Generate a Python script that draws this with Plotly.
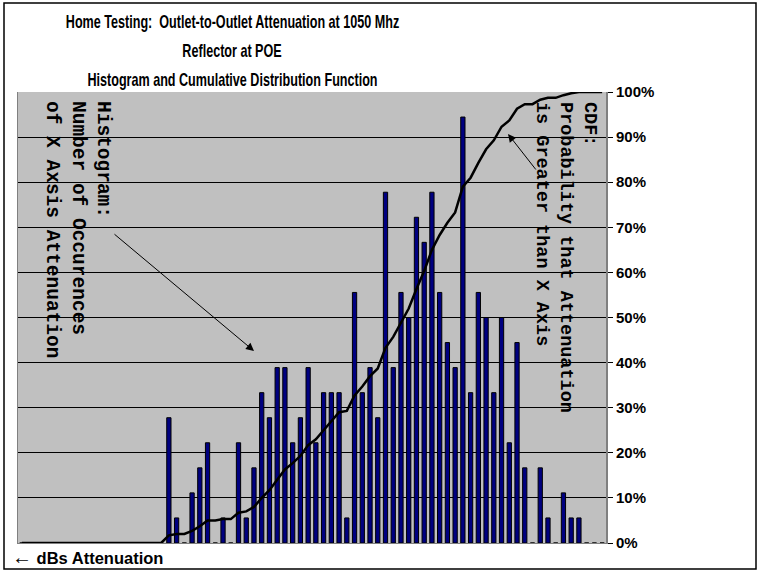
import plotly.graph_objects as go

# ---- data ----
bins = list(range(76))  # attenuation bins (categories), left to right
counts = [0] * 19 + [5, 1, 0, 2, 3, 4, 0, 1, 0, 4,
                     1, 3, 6, 5, 7, 7, 4, 5, 7, 4,
                     6, 6, 6, 1, 10, 6, 7, 5, 14, 7,
                     10, 9, 13, 12, 14, 10, 8, 7, 17, 6,
                     10, 9, 6, 9, 4, 8, 3, 0, 3, 1,
                     0, 2, 1, 1] + [0] * 3
cdf = [0.0] * 19 + [0.017, 0.020, 0.020, 0.027, 0.037, 0.050, 0.050, 0.053, 0.053, 0.067,
                    0.070, 0.080, 0.100, 0.117, 0.140, 0.163, 0.177, 0.193, 0.217, 0.230,
                    0.250, 0.270, 0.290, 0.293, 0.327, 0.347, 0.370, 0.387, 0.433, 0.457,
                    0.490, 0.520, 0.563, 0.603, 0.650, 0.683, 0.710, 0.733, 0.790, 0.810,
                    0.843, 0.873, 0.893, 0.923, 0.937, 0.963, 0.973, 0.973, 0.983, 0.987,
                    0.987, 0.993, 0.997, 1.0, 1.0, 1.0, 1.0]
pct_ticks = [i / 10 for i in range(11)]
pct_labels = [f"{i * 10}%" for i in range(11)]

title_lines = ["Home Testing:  Outlet-to-Outlet Attenuation at 1050 Mhz",
               "Reflector at POE",
               "Histogram and Cumulative Distribution Function"]

# ---- geometry helpers (pixel -> paper) ----
W, H = 760, 572
L, R, T, B = 18, 606, 92, 543


def px(x):
    return (x - L) / (R - L)


def py(y):
    return (B - y) / (B - T)


fig = go.Figure()
fig.add_trace(go.Bar(x=bins, y=counts, marker=dict(color="#000080", line=dict(color="#000000", width=1)),
                     yaxis="y", showlegend=False))
fig.add_trace(go.Scatter(x=bins, y=cdf, mode="lines", line=dict(color="#000000", width=2.5),
                         yaxis="y2", showlegend=False))

sans = "Liberation Sans, Arial"
annotations = []
for txt, yy in zip(title_lines, [22, 51, 80]):
    annotations.append(dict(text=f"<b>{txt}</b>", xref="paper", yref="paper", x=px(232), y=py(yy),
                            xanchor="center", yanchor="middle", showarrow=False,
                            font=dict(family=sans, size=18, color="#000")))

mono_h = dict(family="Liberation Mono, DejaVu Sans Mono, monospace", size=19.5, color="#000")
mono_c = dict(family="Liberation Mono, DejaVu Sans Mono, monospace", size=18.5, color="#000")
annotations.append(dict(text="<b>Histogram:<br>Number of Occurences<br>of X Axsis Attenuation</b>",
                        xref="paper", yref="paper", x=px(77), y=py(229), xanchor="center", yanchor="middle",
                        textangle=90, align="left", showarrow=False, font=mono_h))
annotations.append(dict(text="<b>CDF:<br>Probability that Attenuation<br>is Greater than X Axis</b>",
                        xref="paper", yref="paper", x=px(566), y=py(257), xanchor="center", yanchor="middle",
                        textangle=90, align="left", showarrow=False, font=mono_c))
# arrows
annotations.append(dict(text="", xref="paper", yref="paper", x=px(254), y=py(351), ax=113 - 254, ay=233 - 351,
                        showarrow=True, arrowhead=2, arrowsize=1.6, arrowwidth=1, arrowcolor="#000"))
annotations.append(dict(text="", xref="paper", yref="paper", x=px(508), y=py(134), ax=29, ay=37,
                        showarrow=True, arrowhead=2, arrowsize=1.6, arrowwidth=1, arrowcolor="#000"))
annotations.append(dict(text="<b><span style='font-size:20px'>\u2190</span> dBs Attenuation</b>",
                        xref="paper", yref="paper", x=px(10), y=py(557),
                        xanchor="left", yanchor="middle", showarrow=False,
                        font=dict(family=sans, size=16.5, color="#000")))

fig.update_layout(
    width=W, height=H, autosize=False,
    margin=dict(l=L, r=W - R, t=T, b=H - B, pad=0),
    paper_bgcolor="#ffffff", plot_bgcolor="#c0c0c0",
    bargap=0.45,
    xaxis=dict(range=[-0.5, 75.5], showticklabels=False, ticks="", showgrid=False, zeroline=False,
               showline=True, linecolor="#808080", linewidth=1),
    yaxis=dict(range=[0, 18], showticklabels=False, ticks="", showgrid=False, zeroline=False,
               showline=True, linecolor="#808080", linewidth=1),
    yaxis2=dict(range=[0, 1], overlaying="y", side="right", tickvals=pct_ticks, ticktext=pct_labels,
                showgrid=True, gridcolor="#000000", gridwidth=1, zeroline=False,
                showline=True, linecolor="#808080", linewidth=2,
                ticks="outside", ticklen=5, tickcolor="#000", tickwidth=1,
                tickfont=dict(family=sans, size=15, color="#000", weight="bold")),
    annotations=annotations,
    shapes=[dict(type="rect", xref="paper", yref="paper", x0=px(4), x1=px(756), y0=py(569), y1=py(3),
                 line=dict(color="#000000", width=1.5), fillcolor="rgba(0,0,0,0)", layer="below")],
)

post = """
document.body.style.margin='0';document.body.style.padding='0';
(function(){
  function fix(){
    document.querySelectorAll('.annotation-text').forEach(function(t){
      var s = t.textContent || '';
      if (s.indexOf('Home Testing') === 0 || s === 'Reflector at POE' || s.indexOf('Histogram and') === 0) {
        t.style.transformBox = 'fill-box';
        t.style.transformOrigin = 'center';
        t.style.transform = 'scaleX(0.7)';
      }
    });
  }
  fix(); setTimeout(fix, 30); setTimeout(fix, 300);
})();
"""

fig.write_html("out.html", config={"displayModeBar": False}, post_script=post)
